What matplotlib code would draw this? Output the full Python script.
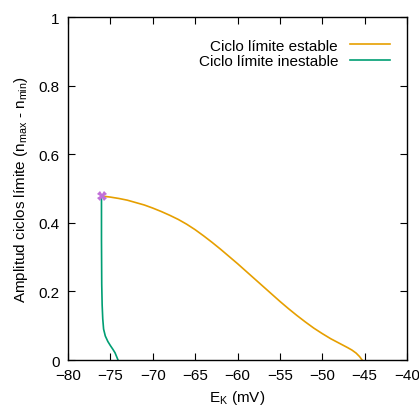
import matplotlib
matplotlib.use('Agg')
import matplotlib.pyplot as plt

plt.rcParams['font.family'] = ['Liberation Sans', 'DejaVu Sans']
plt.rcParams['mathtext.fontset'] = 'custom'
plt.rcParams['mathtext.rm'] = 'Liberation Sans'
plt.rcParams['mathtext.it'] = 'Liberation Sans:italic'

# stable limit cycle amplitude
ek_stable = [-76.0, -75.0, -74.0, -73.0, -72.0, -71.0, -70.0, -69.0, -68.0, -67.0,
             -66.0, -65.0, -64.0, -63.0, -62.0, -61.0, -60.0, -59.0, -58.0, -57.0,
             -56.0, -55.0, -54.0, -53.0, -52.0, -51.0, -50.0, -49.0, -48.0, -47.0,
             -46.5, -46.0, -45.6, -45.3]
amp_stable = [0.478, 0.475, 0.471, 0.466, 0.459, 0.452, 0.443, 0.433, 0.422, 0.410,
              0.396, 0.380, 0.362, 0.343, 0.323, 0.302, 0.281, 0.259, 0.237, 0.215,
              0.193, 0.171, 0.150, 0.130, 0.111, 0.093, 0.077, 0.062, 0.049, 0.036,
              0.029, 0.020, 0.010, 0.0]

# unstable limit cycle amplitude
ek_unstable = [-76.05, -76.05, -76.02, -75.97, -75.9, -75.8, -75.6, -75.3,
               -75.0, -74.7, -74.45, -74.25, -74.1]
amp_unstable = [0.475, 0.35, 0.22, 0.16, 0.12, 0.09, 0.07, 0.054,
                0.042, 0.031, 0.021, 0.009, 0.0]

# Hopf point
ek_hopf = [-76.0]
amp_hopf = [0.478]

fig = plt.figure(figsize=(4.19, 4.10), dpi=100)
ax = fig.add_axes([0.1623, 0.1195, 0.8091, 0.8365])

ax.plot(ek_stable, amp_stable, color='#e69f00', lw=1.2, label='Ciclo límite estable')
ax.plot(ek_unstable, amp_unstable, color='#009e73', lw=1.2, label='Ciclo límite inestable')
ax.plot(ek_hopf, amp_hopf, 'X', color='#c06fd8', ms=7, mew=0)

ax.set_xlim(-80, -40)
ax.set_ylim(0, 1)
ax.set_xticks(range(-80, -39, 5))
ax.set_yticks([0, 0.2, 0.4, 0.6, 0.8, 1])
ax.set_yticklabels(['0', '0.2', '0.4', '0.6', '0.8', '1'])
ax.tick_params(direction='in', top=True, right=True, length=5, labelsize=11, pad=6)
for s in ax.spines.values():
    s.set_linewidth(1.0)

ax.set_xlabel(r'E$_\mathrm{K}$ (mV)', fontsize=11, labelpad=4)
ax.set_ylabel(r'Amplitud ciclos límite (n$_\mathrm{max}$ - n$_\mathrm{min}$)', fontsize=11, labelpad=6)

ax.legend(loc='upper right', bbox_to_anchor=(0.968, 0.955), frameon=False,
          markerfirst=False, fontsize=11, handlelength=2.6, borderaxespad=0,
          labelspacing=0.1)

fig.savefig('out.png', dpi=100)
